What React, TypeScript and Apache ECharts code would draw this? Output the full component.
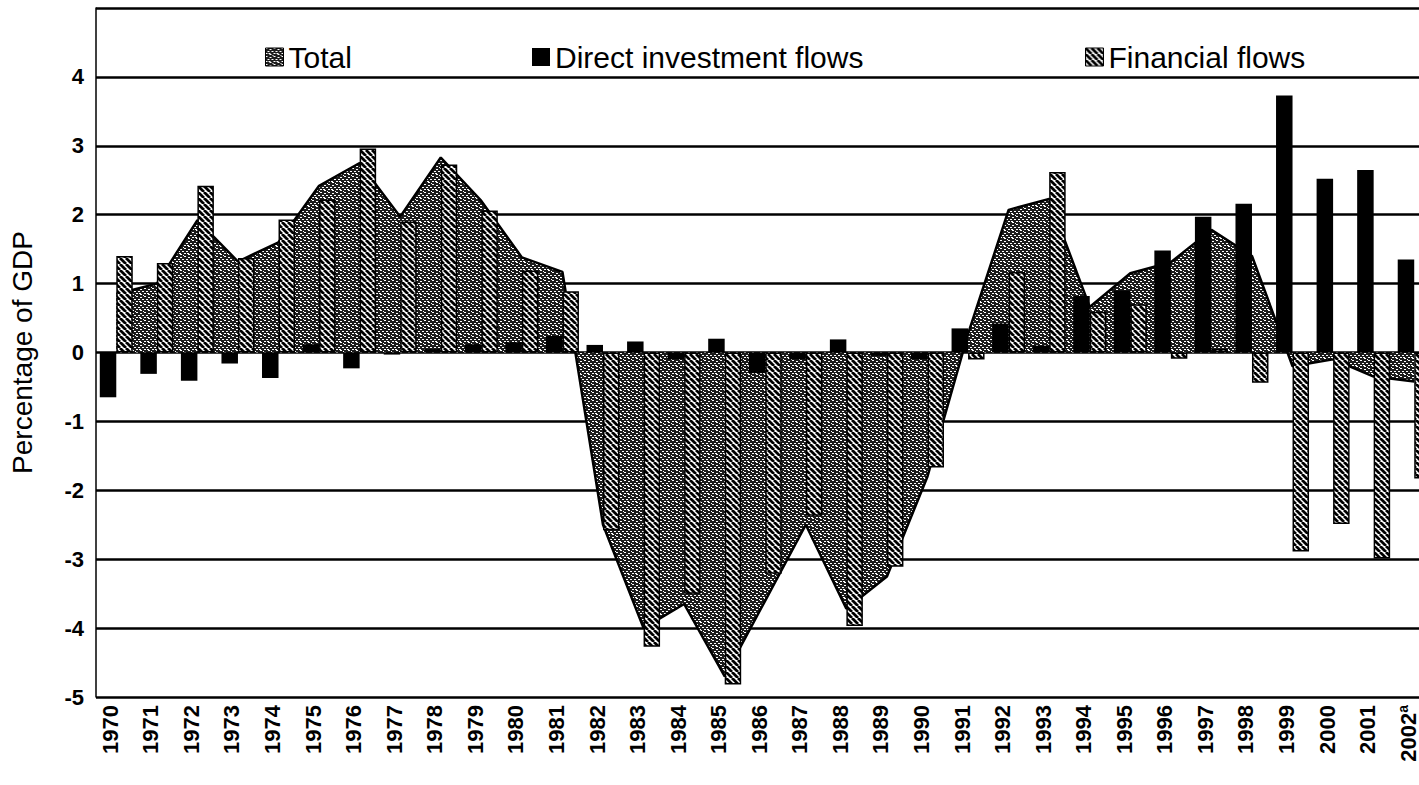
import React, { useEffect, useRef } from 'react';
import * as echarts from 'echarts';

const years = [
  '1970', '1971', '1972', '1973', '1974', '1975', '1976', '1977', '1978', '1979',
  '1980', '1981', '1982', '1983', '1984', '1985', '1986', '1987', '1988', '1989',
  '1990', '1991', '1992', '1993', '1994', '1995', '1996', '1997', '1998', '1999',
  '2000', '2001', '2002a',
];

const directInvestment = [
  -0.65, -0.31, -0.41, -0.16, -0.37, 0.12, -0.23, -0.03, 0.05, 0.12,
  0.15, 0.24, 0.11, 0.16, -0.1, 0.2, -0.3, -0.1, 0.19, -0.05,
  -0.1, 0.35, 0.42, 0.1, 0.82, 0.9, 1.48, 1.97, 2.16, 3.73,
  2.52, 2.65, 1.35,
];

const financialFlows = [
  1.4, 1.3, 2.42, 1.37, 1.93, 2.22, 2.96, 1.9, 2.73, 2.06,
  1.19, 0.89, -2.58, -4.27, -3.5, -4.82, -3.21, -2.37, -3.97, -3.11,
  -1.67, -0.1, 1.17, 2.62, 0.59, 0.7, -0.09, 0.05, -0.44, -2.89,
  -2.49, -2.99, -1.83,
];

const totalFlows = [
  0.85, 1.0, 1.92, 1.32, 1.6, 2.42, 2.75, 1.97, 2.83, 2.2,
  1.38, 1.17, -2.5, -4.0, -3.65, -4.7, -3.6, -2.5, -3.72, -3.25,
  -1.8, 0.27, 2.07, 2.23, 0.66, 1.15, 1.31, 1.78, 1.4, -0.2,
  -0.1, -0.35, -0.42,
];

const yMin = -5;
const yMax = 5;
const yStep = 1;

const seriesNames = ['Total', 'Direct investment flows', 'Financial flows'];

function makeHatch(): HTMLCanvasElement {
  const s = 6;
  const c = document.createElement('canvas');
  c.width = s;
  c.height = s;
  const ctx = c.getContext('2d')!;
  ctx.fillStyle = '#ffffff';
  ctx.fillRect(0, 0, s, s);
  ctx.strokeStyle = '#000000';
  ctx.lineWidth = 2.8;
  ctx.beginPath();
  for (const k of [-1, 0, 1]) {
    ctx.moveTo(k * s, 0);
    ctx.lineTo(k * s + s, s);
  }
  ctx.stroke();
  return c;
}

function makeStipple(): HTMLCanvasElement {
  const s = 8;
  const c = document.createElement('canvas');
  c.width = s;
  c.height = s;
  const ctx = c.getContext('2d')!;
  ctx.fillStyle = '#1c1c1c';
  ctx.fillRect(0, 0, s, s);
  ctx.fillStyle = '#ffffff';
  const spots = [[0, 0], [4, 1], [2, 3], [6, 3], [0, 5], [4, 6], [7, 7], [3, 5]];
  for (const [x, y] of spots) ctx.fillRect(x, y, 2, 1);
  return c;
}

export default function App() {
  const ref = useRef<HTMLDivElement>(null);

  useEffect(() => {
    if (!ref.current) return;
    const chart = echarts.init(ref.current, null, { renderer: 'svg' });
    const hatch = makeHatch();
    const stipple = makeStipple();
    const hatchFill: any = { image: hatch, repeat: 'repeat', imageWidth: 6, imageHeight: 6 };
    const stippleFill: any = { image: stipple, repeat: 'repeat', imageWidth: 8, imageHeight: 8 };
    const font = 'Liberation Sans, Arial, sans-serif';

    const legendBase = {
      top: 37,
      itemWidth: 18,
      itemHeight: 18,
      icon: 'rect',
      selectedMode: false,
      textStyle: { fontSize: 30, fontFamily: font, color: '#000' },
    };

    chart.setOption({
      animation: false,
      backgroundColor: '#ffffff',
      legend: [
        { ...legendBase, left: 260, data: [{ name: seriesNames[0], itemStyle: { color: stippleFill, borderColor: '#000', borderWidth: 1 } }] },
        { ...legendBase, left: 527, data: [{ name: seriesNames[1], itemStyle: { color: '#000' } }] },
        { ...legendBase, left: 1080, data: [{ name: seriesNames[2], itemStyle: { color: hatchFill, borderColor: '#000', borderWidth: 1 } }] },
      ],
      grid: { left: 93, top: 8, width: 1341.5, height: 689, containLabel: false },
      xAxis: {
        type: 'category',
        data: years,
        boundaryGap: true,
        axisLine: { show: false },
        axisTick: { show: false },
        axisLabel: {
          interval: 0,
          rotate: 90,
          margin: 8,
          padding: [0, 0, 12, 0],
          fontSize: 22,
          fontWeight: 'bold',
          fontFamily: font,
          color: '#000',
          formatter: (v: string) => (v === '2002a' ? '{n|2002}{s|a}' : v),
          rich: {
            n: { fontSize: 22, fontWeight: 'bold', fontFamily: font, color: '#000' },
            s: { fontSize: 14, fontWeight: 'bold', fontFamily: font, color: '#000', padding: [0, 0, 10, 0] },
          },
        },
        splitLine: { show: false },
      },
      yAxis: {
        type: 'value',
        min: yMin,
        max: yMax,
        interval: yStep,
        name: 'Percentage of GDP',
        nameLocation: 'middle',
        nameRotate: 90,
        nameGap: 60,
        nameTextStyle: { fontSize: 28, fontFamily: font, color: '#000' },
        axisLine: { show: true, lineStyle: { color: '#000', width: 1.5 } },
        axisTick: { show: false },
        axisLabel: {
          margin: 12,
          fontSize: 22,
          fontWeight: 'bold',
          fontFamily: font,
          color: '#000',
          formatter: (v: number) => (v === yMax ? '' : String(v)),
        },
        splitLine: { show: true, lineStyle: { color: '#000', width: 2.5 } },
      },
      series: [
        {
          name: seriesNames[0],
          type: 'line',
          data: totalFlows,
          z: 1,
          symbol: 'none',
          showSymbol: false,
          itemStyle: { color: stippleFill },
          lineStyle: { color: '#000', width: 2.5 },
          areaStyle: { color: stippleFill, opacity: 1 },
        },
        {
          name: seriesNames[1],
          type: 'bar',
          data: directInvestment,
          z: 3,
          barWidth: 16.5,
          barGap: '0%',
          itemStyle: { color: '#000' },
        },
        {
          name: seriesNames[2],
          type: 'bar',
          data: financialFlows,
          z: 3,
          barWidth: 16.5,
          barGap: '0%',
          itemStyle: { color: hatchFill, borderColor: '#000', borderWidth: 1.5 },
        },
      ],
    });
    return () => chart.dispose();
  }, []);

  return (
    <div
      ref={ref}
      style={{ position: 'fixed', left: 0, top: 0, width: 1440, height: 785, background: '#fff' }}
    />
  );
}
